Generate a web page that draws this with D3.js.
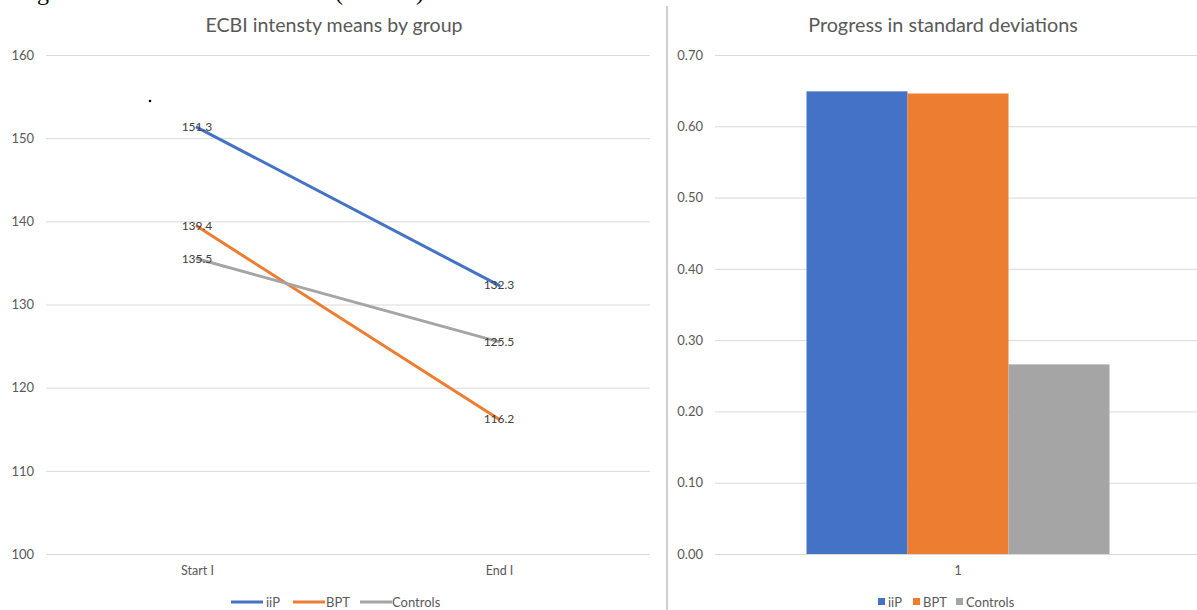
<!DOCTYPE html>
<html><head><meta charset="utf-8">
<script src="https://cdn.jsdelivr.net/npm/d3@7"></script>
<style>body{margin:0;background:#fff}svg{display:block}text{font-family:Lato,"Open Sans",sans-serif}</style>
</head><body>
<svg id="c" width="1197" height="610"></svg>
<script>
// ---- data ----
const lineCategories = ["Start I", "End I"];
const iipValues = [151.3, 132.3];
const bptValues = [139.4, 116.2];
const controlValues = [135.5, 125.5];
const lineTicks = [100, 110, 120, 130, 140, 150, 160];
const seriesNames = ["iiP", "BPT", "Controls"];
const barCategories = ["1"];
const progressValues = [0.649, 0.646, 0.266];
const barTicks = [0, 0.1, 0.2, 0.3, 0.4, 0.5, 0.6, 0.7];
const colors = ["#4472C4", "#ED7D31", "#A5A5A5"];

const svg = d3.select("#c");
const grid = "#d9d9d9", txt = "#595959";

// cut-off caption at top (as in the reference)
svg.append("text").attr("x", 17).attr("y", 0).style("font-family", "Liberation Serif").attr("font-size", 24).attr("fill", "#000").text("Figure");
svg.append("text").attr("x", 335).attr("y", 0).style("font-family", "Liberation Serif").attr("font-size", 24).attr("fill", "#000").text("(");
svg.append("text").attr("x", 416).attr("y", 0).style("font-family", "Liberation Serif").attr("font-size", 24).attr("fill", "#000").text(")");

// divider
svg.append("line").attr("x1", 667).attr("x2", 667).attr("y1", 6).attr("y2", 610).attr("stroke", "#d0d0d0").attr("stroke-width", 2);

// ---- left line chart ----
const xL = d3.scalePoint().domain(lineCategories).range([46, 650]).padding(0.5);
const yL = d3.scaleLinear().domain([100, 160]).range([554, 55]);

svg.append("text").attr("x", 334).attr("y", 32).attr("text-anchor", "middle").attr("font-size", 19.6).attr("fill", txt).text("ECBI intensty means by group");

const gL = svg.append("g");
gL.append("g").attr("transform", "translate(46,0)")
  .call(d3.axisLeft(yL).tickValues(lineTicks).tickSize(-604).tickPadding(12))
  .call(g => g.select(".domain").remove())
  .call(g => g.selectAll(".tick line").attr("stroke", grid))
  .call(g => g.selectAll(".tick text").attr("font-size", 13).attr("fill", txt).style("font-family", "Lato"));

gL.append("g").attr("transform", "translate(0,554)")
  .call(d3.axisBottom(xL).tickSize(0).tickPadding(12))
  .call(g => g.select(".domain").remove())
  .call(g => g.selectAll(".tick text").attr("font-size", 12.5).attr("fill", txt).style("font-family", "Lato"));

const lineSeries = [iipValues, bptValues, controlValues];
const lineGen = d3.line().x((d, i) => xL(lineCategories[i])).y(d => yL(d));
lineSeries.forEach((vals, s) => {
  gL.append("path").datum(vals).attr("d", lineGen).attr("fill", "none")
    .attr("stroke", colors[s]).attr("stroke-width", 3).attr("stroke-linecap", "round");
});
lineSeries.forEach((vals, s) => {
  gL.selectAll(null).data(vals).enter().append("text")
    .attr("x", (d, i) => xL(lineCategories[i])).attr("y", d => yL(d) + 4)
    .attr("text-anchor", "middle").attr("font-size", 12).attr("fill", "#404040")
    .text(d => d.toFixed(1));
});
// stray dot
svg.append("circle").attr("cx", 150).attr("cy", 101).attr("r", 1.3).attr("fill", "#000");

// legend left
const legL = [[231, 266], [293, 326], [360, 392]];
seriesNames.forEach((n, i) => {
  svg.append("line").attr("x1", legL[i][0]).attr("x2", legL[i][0] + 32).attr("y1", 602).attr("y2", 602)
    .attr("stroke", colors[i]).attr("stroke-width", 3);
  svg.append("text").attr("x", legL[i][1]).attr("y", 606.5).attr("font-size", 13).attr("fill", txt).text(n);
});

// ---- right bar chart ----
svg.append("text").attr("x", 943).attr("y", 32).attr("text-anchor", "middle").attr("font-size", 19.8).attr("fill", txt).text("Progress in standard deviations");

const xR = d3.scaleBand().domain(barCategories).range([715, 1201]).paddingInner(0).paddingOuter(0.302);
const x1 = d3.scaleBand().domain(seriesNames).range([0, xR.bandwidth()]);
const yR = d3.scaleLinear().domain([0, 0.7]).range([554, 55]);

const gR = svg.append("g");
gR.append("g").attr("transform", "translate(715,0)")
  .call(d3.axisLeft(yR).tickValues(barTicks).tickFormat(d3.format(".2f")).tickSize(-486).tickPadding(12))
  .call(g => g.select(".domain").remove())
  .call(g => g.selectAll(".tick line").attr("stroke", grid))
  .call(g => g.selectAll(".tick text").attr("font-size", 13).attr("fill", txt).style("font-family", "Lato"));

gR.selectAll("rect.bar").data(progressValues).enter().append("rect")
  .attr("x", (d, i) => xR(barCategories[0]) + x1(seriesNames[i]))
  .attr("width", x1.bandwidth())
  .attr("y", d => yR(d)).attr("height", d => yR(0) - yR(d))
  .attr("fill", (d, i) => colors[i]);

gR.append("g").attr("transform", "translate(0,554)")
  .call(d3.axisBottom(xR).tickSize(0).tickPadding(12))
  .call(g => g.select(".domain").remove())
  .call(g => g.selectAll(".tick text").attr("font-size", 13).attr("fill", txt).style("font-family", "Lato"));

const legR = [[878, 888], [913, 923], [956, 966]];
seriesNames.forEach((n, i) => {
  svg.append("rect").attr("x", legR[i][0]).attr("y", 598).attr("width", 7).attr("height", 7).attr("fill", colors[i]);
  svg.append("text").attr("x", legR[i][1]).attr("y", 606.5).attr("font-size", 13).attr("fill", txt).text(n);
});
</script>
</body></html>
